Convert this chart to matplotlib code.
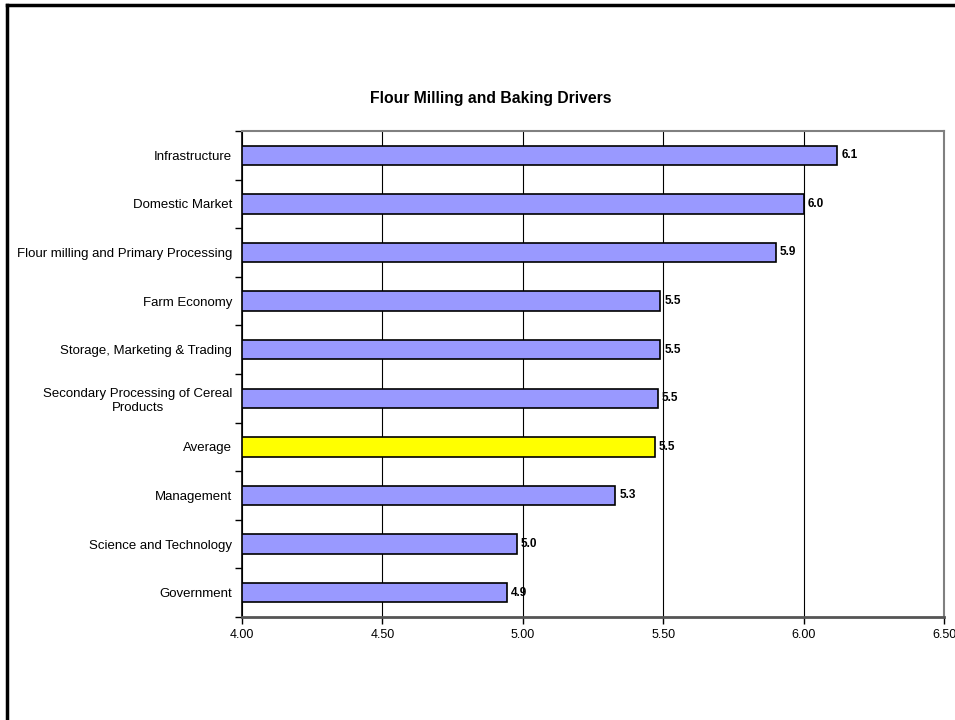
import matplotlib
matplotlib.use('Agg')
import matplotlib.pyplot as plt
from matplotlib.lines import Line2D

plt.rcParams['font.family'] = ['Liberation Sans', 'DejaVu Sans']

# data (top to bottom as in the chart)
categories = ['Infrastructure', 'Domestic Market', 'Flour milling and Primary Processing',
              'Farm Economy', 'Storage, Marketing & Trading',
              'Secondary Processing of Cereal\nProducts', 'Average', 'Management',
              'Science and Technology', 'Government']
values = [6.12, 6.00, 5.90, 5.49, 5.49, 5.48, 5.47, 5.33, 4.98, 4.945]
xticks = [4.0, 4.5, 5.0, 5.5, 6.0, 6.5]

bar_color = '#9999FF'
avg_color = '#FFFF00'

fig = plt.figure(figsize=(9.55, 7.2), dpi=100)
ax = fig.add_axes([242 / 955, 1 - 617 / 720, 702 / 955, 486 / 720])

n = len(categories)
ypos = list(range(n - 1, -1, -1))
colors = [avg_color if c == 'Average' else bar_color for c in categories]
x0 = xticks[0]
ax.barh(ypos, [v - x0 for v in values], left=x0, height=0.4, color=colors,
        edgecolor='black', linewidth=1.2, zorder=3)

for y, v in zip(ypos, values):
    ax.text(v + 0.014, y, '%.1f' % v, va='center', ha='left', fontsize=8.5,
            fontweight='bold', zorder=4)

ax.set_xlim(xticks[0], xticks[-1])
ax.set_ylim(-0.5, n - 0.5)
ax.set_xticks(xticks)
ax.set_xticklabels(['%.2f' % t for t in xticks], fontsize=9)
ax.xaxis.grid(True, color='black', linewidth=0.8, zorder=0)
ax.set_axisbelow(True)

ax.set_yticks(ypos)
ax.set_yticklabels(categories, fontsize=9.5, multialignment='center')
ax.tick_params(axis='y', length=0, pad=7)
ax.set_yticks([i + 0.5 for i in range(-1, n)], minor=True)
ax.tick_params(axis='y', which='minor', length=5, width=1, direction='out')
ax.tick_params(axis='x', length=5, width=1, direction='out', pad=4)

ax.spines['left'].set_color('black')
ax.spines['left'].set_linewidth(1.2)
ax.spines['bottom'].set_color('#555555')
ax.spines['bottom'].set_linewidth(2)
ax.spines['top'].set_color('#808080')
ax.spines['right'].set_color('#808080')
ax.spines['top'].set_linewidth(1.5)
ax.spines['right'].set_linewidth(1.5)

fig.text(0.514, 1 - 98 / 720, 'Flour Milling and Baking Drivers', ha='center',
         va='center', fontsize=11.3, fontweight='bold')

# outer chart border (top and left visible)
fig.add_artist(Line2D([7 / 955, 1.0], [1 - 5 / 720, 1 - 5 / 720], color='black',
                      linewidth=2.5, transform=fig.transFigure))
fig.add_artist(Line2D([7 / 955, 7 / 955], [0, 1 - 5 / 720], color='black',
                      linewidth=2.5, transform=fig.transFigure))

fig.savefig('out.png', dpi=100)
